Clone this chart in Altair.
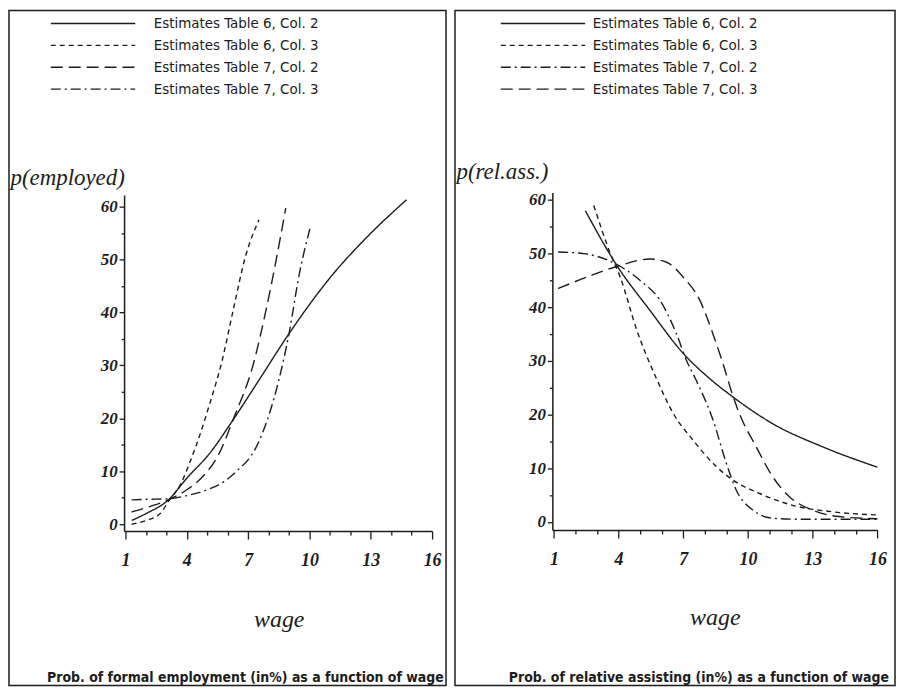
import altair as alt
import pandas as pd

SERIES = [
    "Estimates Table 6, Col. 2",
    "Estimates Table 6, Col. 3",
    "Estimates Table 7, Col. 2",
    "Estimates Table 7, Col. 3",
]

# ---- Left panel: p(employed) -------------------------------------------
emp_t6c2_wage = [1.3, 2.0, 3.1, 4.0, 5.1, 6.26, 7.46, 9.0, 10.0, 11.1, 12.7, 14.75]
emp_t6c2_prob = [0.7, 2.0, 4.6, 8.7, 13.3, 19.7, 26.8, 36.0, 41.5, 47.0, 53.8, 61.3]
emp_t6c3_wage = [1.3, 2.0, 2.7, 3.1, 3.7, 4.2, 4.65, 5.1, 5.7, 6.3, 6.85, 7.53]
emp_t6c3_prob = [0.0, 0.7, 2.0, 4.3, 7.6, 12.2, 17.0, 22.5, 30.5, 41.0, 50.3, 57.5]
emp_t7c2_wage = [1.3, 2.0, 3.1, 4.0, 4.65, 5.6, 6.28, 7.25, 7.9, 8.39, 8.84]
emp_t7c2_prob = [2.3, 3.1, 4.6, 6.5, 8.5, 13.5, 19.9, 30.2, 40.9, 50.3, 59.7]
emp_t7c3_wage = [1.3, 2.0, 3.1, 4.0, 5.13, 5.8, 6.4, 7.4, 8.04, 8.5, 9.0, 9.5, 10.06]
emp_t7c3_prob = [4.6, 4.7, 4.8, 5.4, 6.7, 8.0, 9.9, 14.6, 20.9, 27.2, 36.0, 47.2, 56.4]

# ---- Right panel: p(rel.ass.) ------------------------------------------
rel_t6c2_wage = [2.46, 3.92, 5.46, 7.0, 8.23, 9.3, 11.15, 13.46, 16.0]
rel_t6c2_prob = [58.0, 47.8, 39.4, 31.4, 26.7, 23.3, 18.3, 14.0, 10.2]
rel_t6c3_wage = [2.85, 3.62, 4.08, 4.85, 5.77, 6.54, 7.46, 8.54, 9.3, 10.54, 12.07, 13.9, 16.0]
rel_t6c3_prob = [59.0, 50.0, 45.6, 35.7, 26.6, 20.2, 15.2, 10.3, 7.8, 5.3, 3.1, 1.9, 1.3]
rel_t7c2_wage = [1.2, 2.38, 3.0, 3.77, 5.0, 5.92, 6.69, 7.15, 7.6, 8.38, 9.0, 9.46, 10.23, 11.15, 12.5, 14.0, 16.0]
rel_t7c2_prob = [50.3, 50.0, 49.5, 48.3, 45.0, 41.3, 35.0, 30.1, 26.4, 19.0, 10.9, 5.9, 2.2, 0.7, 0.5, 0.5, 0.5]
rel_t7c3_wage = [1.2, 2.7, 3.92, 5.46, 6.23, 7.0, 7.77, 8.38, 8.85, 9.3, 9.6, 10.38, 11.15, 11.92, 13.0, 14.2, 16.0]
rel_t7c3_prob = [43.5, 45.9, 47.6, 49.0, 48.4, 45.6, 41.3, 35.0, 29.4, 23.5, 20.2, 14.0, 8.4, 4.7, 2.2, 1.0, 0.6]

X_TICKS = list(range(1, 17))
Y_TICKS = list(range(0, 61, 5))

SOLID = [1, 0]
SHORT = [5, 4]
LONG = [12, 6]
DASHDOT = [10, 4, 2, 4]

INK = "#1c1c1c"
SERIF = "Liberation Serif, DejaVu Serif, serif"
NARROW = "DejaVu Sans Condensed, Liberation Sans, sans-serif"
H = 678
ROW = 16          # legend entry height (symbol "size" side)
LINE_HALF = 5.3   # custom legend path reaches +-LINE_HALF units


def frame(pairs):
    rows = []
    for name, (ws, ps) in zip(SERIES, pairs):
        for w, p in zip(ws, ps):
            rows.append({"series": name, "wage": w, "prob": p})
    return pd.DataFrame(rows)


def panel(df, dashes, width, x_range, y_range, y_domain, y_axis_x, x_axis_y,
          y_title, y_title_y, x_title_x, x_title_y, caption, caption_dx,
          legend_x, label_offset):
    x_axis = alt.Axis(
        orient="bottom", offset=x_axis_y - H, values=X_TICKS,
        labelExpr="(datum.value - 1) % 3 == 0 ? datum.label : ''",
        tickSize={"condition": {"test": "(datum.value - 1) % 3 == 0", "value": 8}, "value": 4},
        grid=False, domainColor=INK, domainWidth=1.5, tickColor=INK, tickWidth=1.3,
        labelFont=SERIF, labelFontSize=18, labelFontStyle="italic", labelFontWeight="bold",
        labelColor=INK, labelBaseline="middle", labelPadding=22,
        labelFlush=False, labelOverlap=False,
        title="wage", titleFont=SERIF, titleFontSize=24, titleFontStyle="italic",
        titleFontWeight="normal", titleColor=INK, titleX=x_title_x, titleY=x_title_y,
        titleAlign="center", titleBaseline="middle", titleAngle=0,
    )
    y_axis = alt.Axis(
        orient="left", offset=-y_axis_x, values=Y_TICKS,
        labelExpr="datum.value % 10 == 0 ? datum.label : ''",
        tickSize={"condition": {"test": "datum.value % 10 == 0", "value": 5}, "value": 3},
        grid=False, domainColor=INK, domainWidth=1.5, tickColor=INK, tickWidth=1.3,
        labelFont=SERIF, labelFontSize=17, labelFontStyle="italic", labelFontWeight="bold",
        labelColor=INK, labelPadding=2, labelFlush=False, labelOverlap=False,
        title=y_title, titleFont=SERIF, titleFontSize=23, titleFontStyle="italic",
        titleFontWeight="normal", titleColor=INK, titleAngle=0, titleAlign="left",
        titleBaseline="middle", titleX=1 - y_axis_x, titleY=y_title_y,
    )
    line_len = LINE_HALF * ROW
    legend = alt.Legend(
        orient="none", legendX=legend_x, legendY=4, title=None, direction="vertical",
        symbolType=f"M-{LINE_HALF},0H{LINE_HALF}", symbolSize=ROW * ROW,
        symbolStrokeWidth=1.4, symbolStrokeColor=INK, symbolFillColor="transparent",
        symbolOffset=line_len / 2 - ROW / 2,
        labelFont=NARROW, labelFontSize=15, labelColor=INK,
        labelOffset=label_offset, rowPadding=5, padding=0, labelLimit=400,
    )
    return alt.Chart(df).mark_line(
        color=INK, strokeWidth=1.4, interpolate="monotone"
    ).encode(
        x=alt.X("wage:Q", scale=alt.Scale(domain=[0.93, 16], range=x_range, nice=False, zero=False), axis=x_axis),
        y=alt.Y("prob:Q", scale=alt.Scale(domain=y_domain, range=y_range, nice=False, zero=False), axis=y_axis),
        strokeDash=alt.StrokeDash("series:N", scale=alt.Scale(domain=SERIES, range=dashes), legend=legend),
    ).properties(
        width=width, height=H,
        title=alt.TitleParams(
            caption, orient="bottom", frame="group", offset=-7, baseline="middle",
            anchor="middle", dx=caption_dx, font=NARROW, fontSize=14, fontWeight="bold", color=INK,
        ),
    )


left_df = frame([(emp_t6c2_wage, emp_t6c2_prob), (emp_t6c3_wage, emp_t6c3_prob),
                 (emp_t7c2_wage, emp_t7c2_prob), (emp_t7c3_wage, emp_t7c3_prob)])
right_df = frame([(rel_t6c2_wage, rel_t6c2_prob), (rel_t6c3_wage, rel_t6c3_prob),
                  (rel_t7c2_wage, rel_t7c2_prob), (rel_t7c3_wage, rel_t7c3_prob)])

left = panel(
    left_df, [SOLID, SHORT, LONG, DASHDOT], width=439,
    x_range=[115.6, 425.0], y_range=[522.9, 185.3], y_domain=[-1.3, 62.2],
    y_axis_x=115.6, x_axis_y=522.9, y_title="p(employed)", y_title_y=168,
    x_title_x=271, x_title_y=89,
    caption="Prob. of formal employment (in%) as a function of wage", caption_dx=18,
    legend_x=41, label_offset=52,
)
right = panel(
    right_df, [SOLID, SHORT, DASHDOT, LONG], width=442,
    x_range=[97.8, 424.3], y_range=[521.8, 182.8], y_domain=[-1.5, 61.4],
    y_axis_x=97.8, x_axis_y=521.8, y_title="p(rel.ass.)", y_title_y=162,
    x_title_x=261, x_title_y=88,
    caption="Prob. of relative assisting (in%) as a function of wage", caption_dx=24,
    legend_x=45, label_offset=41,
)

chart = alt.hconcat(left, right, spacing=7).resolve_scale(
    x="independent", y="independent", strokeDash="independent"
).resolve_legend(strokeDash="independent").properties(
    padding=0, background="white"
).configure_view(stroke=INK, strokeWidth=1.5)

chart.save("out.html", embed_options={"renderer": "svg", "actions": False})
